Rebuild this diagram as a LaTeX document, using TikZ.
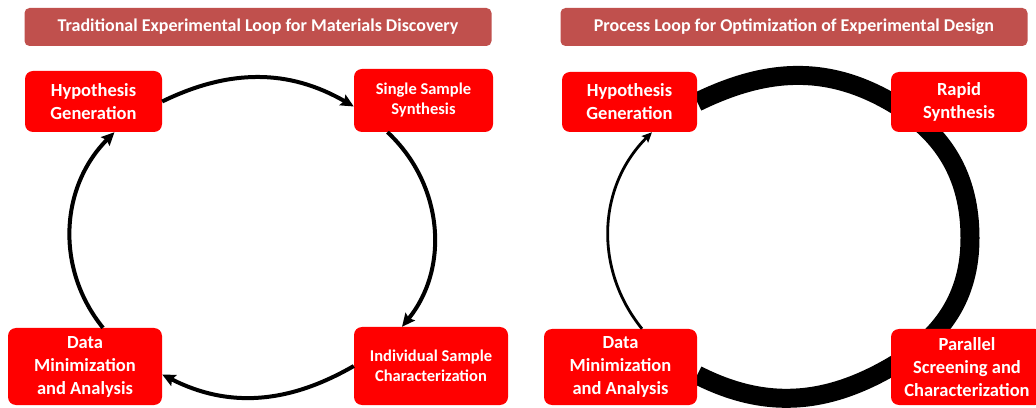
\documentclass[tikz,border=0pt]{standalone}
\usepackage{fontspec}
\setmainfont{Carlito}
\usetikzlibrary{arrows.meta,calc}
\definecolor{titlered}{HTML}{C0504D}
\pgfdeclarelayer{background}\pgfsetlayers{background,main}
\tikzset{block/.style={fill=red,rounded corners=8pt,align=center,text=white,inner sep=0pt,font=\bfseries\fontsize{18.5}{23}\selectfont},smalltext/.style={font=\bfseries\fontsize{16.5}{20}\selectfont},head/.style={fill=titlered,rounded corners=5pt,text=white,inner sep=0pt,minimum width=467pt,minimum height=38pt,font=\bfseries\fontsize{18}{20}\selectfont},edge/.style={-{Stealth[length=13pt,width=12pt,inset=2pt]},line width=4pt},band/.style={line width=19pt},feedback/.style={-{Stealth[length=10pt,width=9pt,inset=1.5pt]},line width=2.8pt}}

\begin{document}
\begin{tikzpicture}[x=1pt,y=1pt]
\useasboundingbox (0,0) rectangle (1036,407);
\clip (0,0) rectangle (1036,407);
% traditional loop
\node[head] (t1) at (258,380) {Traditional Experimental Loop for Materials Discovery};
\node[block,minimum width=137pt,minimum height=61pt] (hyp1) at (93.5,305.5) {Hypothesis\\Generation};
\node[block,smalltext,minimum width=139pt,minimum height=63pt] (ssyn) at (423.5,306.5) {Single Sample\\Synthesis};
\node[block,smalltext,minimum width=154pt,minimum height=78pt] (isc) at (431,41) {Individual Sample\\Characterization};
\node[block,minimum width=154pt,minimum height=77pt] (data1) at (85,40.5) {Data\\Minimization\\and Analysis};
\draw[edge] (hyp1.east) to[out=26,in=150] ([yshift=-6pt]ssyn.west);
\draw[edge] ([xshift=-36pt]ssyn.south) to[out=-43,in=51] ([xshift=-29pt]isc.north);
\draw[edge] (isc.west) to[out=210,in=-27] ([yshift=-8pt]data1.east);
\draw[edge] ([xshift=18pt]data1.north) to[out=129,in=225] ([xshift=21pt]hyp1.south);
% optimization loop
\node[head] (t2) at (794,380) {Process Loop for Optimization of Experimental Design};
\node[block,minimum width=135pt,minimum height=60pt] (hyp2) at (629.5,305) {Hypothesis\\Generation};
\node[block,minimum width=136pt,minimum height=60pt] (rsyn) at (959,305) {Rapid\\Synthesis};
\node[block,minimum width=152pt,minimum height=76pt] (psc) at (967,40) {Parallel\\Screening and\\Characterization};
\node[block,minimum width=153pt,minimum height=76pt] (data2) at (620.5,40) {Data\\Minimization\\and Analysis};
\coordinate (r2) at (970,169);
\begin{pgfonlayer}{background}
\draw[band] (hyp2.east) to[out=26,in=150] (rsyn.west) to[out=-30,in=90] (r2) to[out=-90,in=30] (psc.west) to[out=210,in=-27] ([yshift=-8pt]data2.east);
\end{pgfonlayer}
\draw[feedback] ([xshift=21.5pt]data2.north) to[out=129,in=225] ([xshift=22.5pt]hyp2.south);
\end{tikzpicture}
\end{document}
